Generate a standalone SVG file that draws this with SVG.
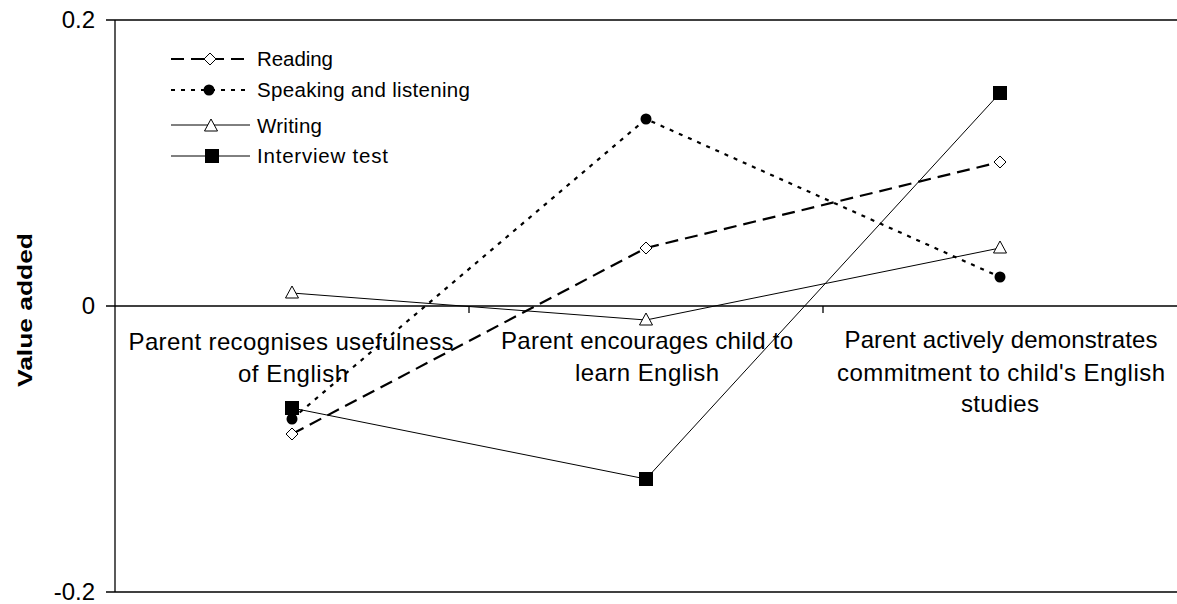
<svg xmlns="http://www.w3.org/2000/svg" width="1177" height="604" viewBox="0 0 1177 604">
<style>
text{font-family:"Liberation Sans",Arial,sans-serif;font-size:20.5px;fill:#000}
.ax{stroke:#000;stroke-width:1.3;fill:none}
.rd{stroke:#000;stroke-width:2.2;fill:none;stroke-dasharray:13 7}
.sp{stroke:#000;stroke-width:2.2;fill:none;stroke-dasharray:4 6}
.wr{stroke:#000;stroke-width:1;fill:none}
.iv{stroke:#000;stroke-width:1;fill:none}
.dia{fill:#fff;stroke:#000;stroke-width:1}
.tri{fill:#fff;stroke:#000;stroke-width:1}
.cat{text-anchor:middle;font-size:24px}
.yl{text-anchor:end;font-size:24px}
</style>
<defs>
<path id="mdia" class="dia" d="M0,-6 L6,0 L0,6 L-6,0 Z"/>
<circle id="mcir" r="5.5" fill="#000"/>
<path id="mtri" class="tri" d="M0,-7 L6.5,5 L-6.5,5 Z"/>
<rect id="msq" x="-7" y="-7" width="14" height="14" fill="#000"/>
</defs>
<g id="axes">
<line class="ax" x1="115" y1="20" x2="115" y2="592"/>
<line class="ax" x1="106" y1="20" x2="1177" y2="20"/>
<line class="ax" x1="106" y1="306" x2="1177" y2="306"/>
<line class="ax" x1="106" y1="592" x2="1177" y2="592"/>
<line class="ax" x1="469" y1="306" x2="469" y2="313"/>
<line class="ax" x1="823" y1="306" x2="823" y2="313"/>
<text class="yl" x="95" y="28">0.2</text>
<text class="yl" x="95" y="314">0</text>
<text class="yl" x="95" y="600">-0.2</text>
<text transform="translate(32,310) rotate(-90)" text-anchor="middle" font-weight="bold" font-size="27px" textLength="154" lengthAdjust="spacingAndGlyphs">Value added</text>
</g>
<g id="cat1"><text class="cat" x="291" y="350" textLength="325">Parent recognises usefulness</text><text class="cat" x="293" y="382" textLength="110">of English</text></g>
<g id="cat2"><text class="cat" x="647" y="349" textLength="292">Parent encourages child to</text><text class="cat" x="647" y="381" textLength="144">learn English</text></g>
<g id="cat3"><text class="cat" x="1001" y="348" textLength="313">Parent actively demonstrates</text><text class="cat" x="1001" y="381" textLength="328">commitment to child's English</text><text class="cat" x="1000" y="412" textLength="78">studies</text></g>
<g id="connectors">
<polyline class="rd" points="292,434 646,248 1000,162"/>
<polyline class="sp" points="292,419 646,119 1000,277"/>
<polyline class="wr" points="292,293 646,320 1000,248"/>
<polyline class="iv" points="292,408 646,479 1000,93"/>
</g>
<g id="reading">
<use href="#mdia" x="292" y="434"/><use href="#mdia" x="646" y="248"/><use href="#mdia" x="1000" y="162"/>
</g>
<g id="speaking">
<use href="#mcir" x="292" y="419"/><use href="#mcir" x="646" y="119"/><use href="#mcir" x="1000" y="277"/>
</g>
<g id="writing">
<use href="#mtri" x="292" y="293"/><use href="#mtri" x="646" y="320"/><use href="#mtri" x="1000" y="248"/>
</g>
<g id="interview">
<use href="#msq" x="292" y="408"/><use href="#msq" x="646" y="479"/><use href="#msq" x="1000" y="93"/>
</g>
<g id="legend">
<line class="rd" x1="171" y1="59" x2="250" y2="59"/><use href="#mdia" x="210" y="59"/><text x="257" y="66" textLength="76">Reading</text>
<line class="sp" x1="171" y1="90" x2="250" y2="90"/><use href="#mcir" x="209" y="90"/><text x="257" y="97" textLength="213">Speaking and listening</text>
<line class="wr" x1="171" y1="125" x2="250" y2="125"/><use href="#mtri" x="211" y="126"/><text x="257" y="133" textLength="65">Writing</text>
<line class="iv" x1="171" y1="156" x2="250" y2="156"/><use href="#msq" x="212" y="156"/><text x="257" y="163" textLength="131">Interview  test</text>
</g>
</svg>
